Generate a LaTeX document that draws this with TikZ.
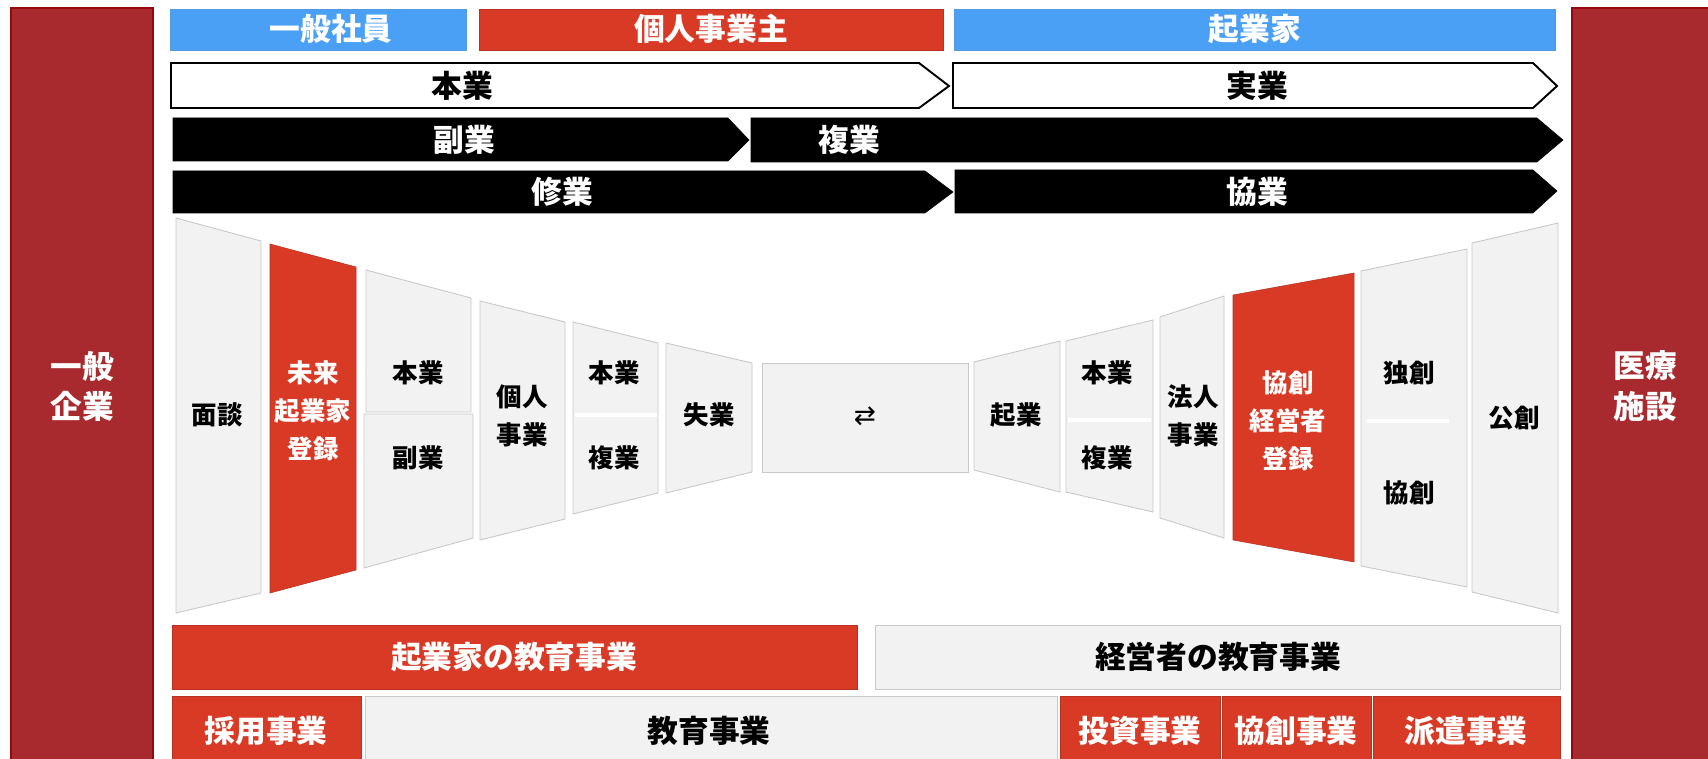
\documentclass[tikz,border=0pt]{standalone}
\usepackage{fontspec}
\setmainfont{Noto Sans CJK JP}
\newfontfamily\symfont{DejaVu Sans}
\usetikzlibrary{calc}

\definecolor{barred}{RGB}{168,42,46}
\definecolor{barline}{RGB}{150,8,10}
\definecolor{boxred}{RGB}{217,58,38}
\definecolor{boxblue}{RGB}{74,160,245}
\definecolor{panelgray}{RGB}{242,242,242}
\definecolor{panelline}{RGB}{200,200,200}

\begin{document}
\begin{tikzpicture}[x=0.02cm, y=-0.02cm,
  sidebar/.style={fill=barred, draw=barline, line width=1.1pt},
  redbox/.style={fill=boxred, draw=boxred!85!black, line width=0.3pt},
  bluebox/.style={fill=boxblue, draw=boxblue!85!gray, line width=0.3pt},
  graybox/.style={fill=panelgray, draw=panelline, line width=0.5pt},
  whitearrow/.style={fill=white, draw=black, line width=1.1pt},
  blackarrow/.style={fill=black, draw=black, line width=0.3pt},
  splitline/.style={draw=white, line width=2.2pt},
  bigtext/.style={inner sep=0pt, font=\fontsize{17.5}{22}\selectfont\bfseries},
  smalltext/.style={inner sep=0pt, align=center, font=\fontsize{14.5}{21.6}\selectfont\bfseries},
  sidetext/.style={inner sep=0pt, align=center, text=white, font=\fontsize{18}{22.8}\selectfont\bfseries}]

% First, fix the frame
\useasboundingbox (0,0) rectangle (1708,759);
\clip (0,0) rectangle (1708,759);

% Side bars
\draw[sidebar] (11,8) rectangle (153,775);
\draw[sidebar] (1572,8) rectangle (1720,775);
\path (82,386) node[sidetext] (kigyo) {一般\\企業};
\path (1645,386) node[sidetext] (iryo) {医療\\施設};

% Top labels
\draw[bluebox] (170,9) rectangle (466,50);
\draw[redbox] (479,9) rectangle (943,50);
\draw[bluebox] (954,9) rectangle (1555,50);
\path (331,29) node[bigtext, text=white] (shain) {一般社員};
\path (711,29) node[bigtext, text=white] (kojin) {個人事業主};
\path (1255,29) node[bigtext, text=white] (kigyoka) {起業家};

% Chevrons, outline row then the black rows
\draw[whitearrow] (171,63) -- (919,63) -- (949,86) -- (919,108) -- (171,108) -- cycle;
\draw[whitearrow] (953,63) -- (1533,63) -- (1557,86) -- (1533,108) -- (953,108) -- cycle;
\path (462,86) node[bigtext] (hongyo) {本業};
\path (1257,86) node[bigtext] (jitsugyo) {実業};

\draw[blackarrow] (173,118) -- (728,118) -- (749,140) -- (728,161) -- (173,161) -- cycle;
\draw[blackarrow] (751,118) -- (1537,118) -- (1563,140) -- (1537,162) -- (751,162) -- cycle;
\path (464,140) node[bigtext, text=white] (fukugyo) {副業};
\path (849,140) node[bigtext, text=white] (fukugyo2) {複業};

\draw[blackarrow] (173,171) -- (925,171) -- (953,192) -- (925,213) -- (173,213) -- cycle;
\draw[blackarrow] (955,170) -- (1533,170) -- (1557,191) -- (1533,213) -- (955,213) -- cycle;
\path (562,192) node[bigtext, text=white] (shugyo) {修業};
\path (1257,192) node[bigtext, text=white] (kyogyo) {協業};

% Gray panels: left x / top-left y / right x / top-right y / bottom-right y / bottom-left y
\foreach \xl/\ytl/\xr/\ytr/\ybr/\ybl in {176/218/261/241/593/613, 366/270/471/298/412/412,
    364/414/473/414/538/568, 480/301/565/322/519/540, 573/322/658/343/493/514,
    666/343/752/363/472/493, 974/362/1060/341/492/470, 1066/341/1153/320/512/492,
    1160/317/1224/296/538/518, 1361/271/1467/249/587/566, 1472/243/1558/223/613/592}
  \draw[graybox] (\xl,\ytl) -- (\xr,\ytr) -- (\xr,\ybr) -- (\xl,\ybl) -- cycle;

% Red panels
\draw[redbox] (270,244) -- (356,267) -- (356,570) -- (270,593) -- cycle;
\draw[redbox] (1233,295) -- (1354,273) -- (1354,562) -- (1233,540) -- cycle;

% Middle box
\draw[graybox] (762,363) rectangle (968,472);

% White split lines
\draw[splitline] (575,415) -- (657,415);
\draw[splitline] (1068,420) -- (1151,420);
\draw[splitline] (1367,421) -- (1449,421);

% Panel texts
\path (217,415) node[smalltext] (mendan) {面談};
\path (313,411) node[smalltext, text=white] (mirai) {未来\\起業家\\登録};
\path (418,373) node[smalltext] (p3a) {本業};
\path (418,458) node[smalltext] (p3b) {副業};
\path (522,416) node[smalltext] (kojinjigyo) {個人\\事業};
\path (614,373) node[smalltext] (p5a) {本業};
\path (614,458) node[smalltext] (p5b) {複業};
\path (709,415) node[smalltext] (shitsugyo) {失業};
\path (865,416) node[inner sep=0pt, font=\symfont\fontsize{15}{18}\selectfont] (swap) {⇄};
\path (1016,415) node[smalltext] (kigyo2) {起業};
\path (1107,373) node[smalltext] (p9a) {本業};
\path (1107,458) node[smalltext] (p9b) {複業};
\path (1193,416) node[smalltext] (hojin) {法人\\事業};
\path (1288,421) node[smalltext, text=white] (keiei) {協創\\経営者\\登録};
\path (1409,373) node[smalltext] (dokuso) {独創};
\path (1409,493) node[smalltext] (kyoso) {協創};
\path (1514,418) node[smalltext] (koso) {公創};

% Bottom rows
\draw[redbox] (172,625) rectangle (857,689);
\draw[graybox] (875,625) rectangle (1560,689);
\path (514,657) node[bigtext, text=white] (kyoiku1) {起業家の教育事業};
\path (1218,657) node[bigtext] (kyoiku2) {経営者の教育事業};

\draw[redbox] (172,696) rectangle (361,770);
\draw[graybox] (365,696) rectangle (1057,770);
\draw[redbox] (1060,696) rectangle (1220,770);
\draw[redbox] (1222,696) rectangle (1371,770);
\draw[redbox] (1373,696) rectangle (1560,770);
\path (266,731) node[bigtext, text=white] (saiyo) {採用事業};
\path (709,731) node[bigtext] (kyoiku) {教育事業};
\path (1140,731) node[bigtext, text=white] (toshi) {投資事業};
\path (1296,731) node[bigtext, text=white] (kyosojigyo) {協創事業};
\path (1466,731) node[bigtext, text=white] (haken) {派遣事業};
\end{tikzpicture}
\end{document}
